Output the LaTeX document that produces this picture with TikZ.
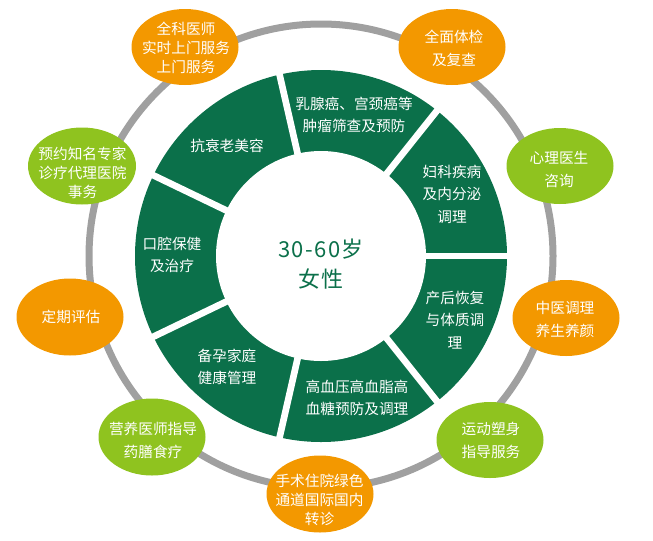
\documentclass[tikz,border=0pt]{standalone}
\usepackage{fontspec}
\newfontfamily\cjk{Noto Sans CJK SC}
\begin{document}
\begin{tikzpicture}[x=0.75pt,y=0.75pt,yscale=-1,xscale=1,
  ring/.style={fill={rgb, 255:red, 11; green, 112; blue, 74 }},
  gap/.style={draw=white, line width=5pt},
  orbit/.style={draw={rgb, 255:red, 160; green, 160; blue, 160 }, line width=5.25pt},
  orangebub/.style={fill={rgb, 255:red, 243; green, 152; blue, 0 }},
  limebub/.style={fill={rgb, 255:red, 143; green, 195; blue, 31 }},
  bubtext/.style={text=white, font=\cjk\fontsize{11}{17.25}\selectfont, align=center, inner sep=0.75pt},
  bubtextdense/.style={bubtext, font=\cjk\fontsize{11}{14.25}\selectfont},
  segtext/.style={text=white, font=\cjk\fontsize{11}{16.9}\selectfont, align=center, inner sep=0.75pt},
  agetext/.style={text={rgb, 255:red, 11; green, 112; blue, 74 }, font=\cjk\fontsize{16.5}{22.5}\selectfont\addfontfeature{LetterSpace=6}, align=center, inner sep=0.75pt}
]
\useasboundingbox (0,0) rectangle (653,540);
%Shape: Circle [orbit]
\draw [orbit] (321,256) circle [radius=232];
%Shape: Ring [segments]
\fill [ring] (321,256) circle [radius=186];
\fill [white] (321,256) circle [radius=105];
%Straight Lines [gaps]
\draw [gap] (321,256) -- (511,256);
\draw [gap] (321,256) -- (439.5,107.5);
\draw [gap] (321,256) -- (278.7,70.8);
\draw [gap] (321,256) -- (149.8,173.6);
\draw [gap] (321,256) -- (149.8,338.4);
\draw [gap] (321,256) -- (278.7,441.2);
\draw [gap] (321,256) -- (439.5,404.5);

% Text Node
\draw (321,264) node (age) [agetext] {30-60岁\\女性};
% Text Node
\draw (354,115) node (breast) [segtext] {乳腺癌、宫颈癌等\\肿瘤筛查及预防};
% Text Node
\draw (452,194) node (gyn) [segtext] {妇科疾病\\及内分泌\\调理};
% Text Node
\draw (455,320) node (postnatal) [segtext] {产后恢复\\与体质调\\理};
% Text Node
\draw (357,398) node (chronic) [segtext] {高血压高血脂高\\血糖预防及调理};
% Text Node
\draw (227,367) node (pregnancy) [segtext] {备孕家庭\\健康管理};
% Text Node
\draw (172,255) node (oral) [segtext] {口腔保健\\及治疗};
% Text Node
\draw (227,146) node (antiaging) [segtext] {抗衰老美容};

%Shape: Ellipse [bubbles]
\fill [orangebub] (185,47) circle [x radius=53.5, y radius=38];
\draw (186,48) node (gp) [bubtextdense] {全科医师\\实时上门服务\\上门服务};
\fill [orangebub] (452,47) circle [x radius=53.5, y radius=38];
\draw (454,48.5) node (checkup) [bubtext] {全面体检\\及复查};
\fill [limebub] (560,166) circle [x radius=53.5, y radius=38];
\draw (559,169) node (psych) [bubtext] {心理医生\\咨询};
\fill [orangebub] (566,318) circle [x radius=53.5, y radius=38];
\draw (565,319.5) node (tcm) [bubtext] {中医调理\\养生养颜};
\fill [limebub] (490,440) circle [x radius=53.5, y radius=38];
\draw (491,440.5) node (fitness) [bubtext] {运动塑身\\指导服务};
\fill [orangebub] (320,494) circle [x radius=53.5, y radius=38.5];
\draw (319.5,500) node (surgery) [bubtextdense] {手术住院绿色\\通道国际国内\\转诊};
\fill [limebub] (152,437) circle [x radius=53.5, y radius=38.5];
\draw (153,440.5) node (diet) [bubtext] {营养医师指导\\药膳食疗};
\fill [orangebub] (70,317) circle [x radius=53.5, y radius=38.5];
\draw (71,317) node (review) [bubtext] {定期评估};
\fill [limebub] (82,166) circle [x radius=54, y radius=38.5];
\draw (82.5,173) node (expert) [bubtextdense] {预约知名专家\\诊疗代理医院\\事务};
\end{tikzpicture}
\end{document}
